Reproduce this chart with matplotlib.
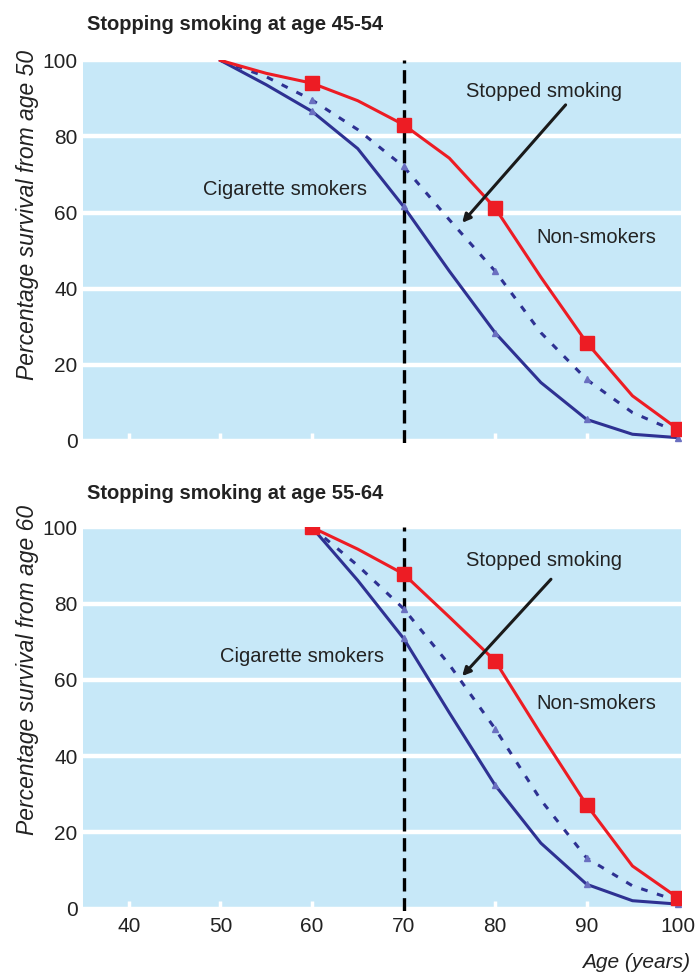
import matplotlib
matplotlib.use("Agg")
import matplotlib.pyplot as plt
from matplotlib import font_manager

names = {f.name for f in font_manager.fontManager.ttflist}
FONT = "Liberation Sans Narrow" if "Liberation Sans Narrow" in names else "Liberation Sans"
plt.rcParams["font.family"] = [FONT, "DejaVu Sans"]

# ---------------- data ----------------
ages_top = [50, 55, 60, 65, 70, 75, 80, 85, 90, 95, 100]
non_smokers_top = [100, 96.6, 94.0, 89.4, 83.1, 74.3, 61.2, 43.0, 25.8, 11.8, 3.0]
stopped_top = [100, 95.7, 89.6, 81.8, 72.1, 58.1, 44.6, 28.4, 16.1, 7.4, 2.2]
smokers_top = [100, 93.6, 86.6, 76.8, 61.6, 44.6, 28.4, 15.3, 5.6, 1.7, 0.8]

ages_bot = [60, 65, 70, 75, 80, 85, 90, 95, 100]
non_smokers_bot = [100, 94.3, 87.8, 76.5, 65.0, 45.8, 27.2, 11.2, 2.8]
stopped_bot = [100, 90.0, 78.7, 64.0, 47.2, 28.5, 13.3, 6.0, 2.0]
smokers_bot = [100, 86.1, 70.9, 51.4, 32.4, 17.2, 6.4, 2.1, 1.2]

marker_ages = [60, 70, 80, 90, 100]
x_ticks = [40, 50, 60, 70, 80, 90, 100]
y_ticks = [0, 20, 40, 60, 80, 100]
titles = ["Stopping smoking at age 45-54", "Stopping smoking at age 55-64"]
ylabels = ["Percentage survival from age 50", "Percentage survival from age 60"]
quit_age_line = 70

RED = "#ED1C24"
NAVY = "#2E3192"
BG = "#C7E8F8"
TXT = "#222222"

fig = plt.figure(figsize=(6.95, 9.77), dpi=100)
ax_top = fig.add_axes([83 / 695, 1 - 443 / 977, 598 / 695, 383 / 977])
ax_bot = fig.add_axes([83 / 695, 1 - 911 / 977, 598 / 695, 384 / 977])

panels = [
    (ax_top, ages_top, non_smokers_top, stopped_top, smokers_top),
    (ax_bot, ages_bot, non_smokers_bot, stopped_bot, smokers_bot),
]

text_pos = [
    dict(stopped=(85.3, 91.7), tail=(87.7, 88.3), head=(76.4, 57.3),
         cig=(57.1, 66.0), non=(91.0, 53.4)),
    dict(stopped=(85.3, 91.4), tail=(86.1, 86.4), head=(76.4, 61.0),
         cig=(58.9, 66.2), non=(91.0, 53.7)),
]

for i, (ax, ages, non, stop, smk) in enumerate(panels):
    ax.set_facecolor(BG)
    for s in ax.spines.values():
        s.set_visible(False)
    ax.set_xlim(35, 100.3)
    ax.set_ylim(-0.6, 100.1)
    ax.set_axisbelow(True)
    ax.yaxis.grid(True, color="white", lw=3.2)
    ax.set_yticks(y_ticks)
    ax.set_xticks(x_ticks)
    ax.tick_params(axis="x", direction="in", color="white", length=7, width=2.5,
                   labelsize=15, pad=4)
    ax.tick_params(axis="y", length=0, labelsize=15, pad=4)
    for lab in ax.get_xticklabels() + ax.get_yticklabels():
        lab.set_color(TXT)
    if i == 0:
        ax.set_xticklabels([])

    midx = [ages.index(a) for a in marker_ages]
    ax.axvline(quit_age_line, color="black", lw=2.4, ls=(0, (4, 2)), zorder=3)
    ax.plot(ages, smk, color=NAVY, lw=2.2, zorder=4, marker="^", markersize=5,
            markevery=midx, markerfacecolor="#6A6FC0", markeredgecolor="#6A6FC0")
    ax.plot(ages, stop, color=NAVY, lw=2.2, ls=(0, (2.2, 3.2)), zorder=4, marker="^",
            markersize=5, markevery=midx, markerfacecolor="#6A6FC0",
            markeredgecolor="#6A6FC0")
    ax.plot(ages, non, color=RED, lw=2.2, zorder=5, marker="s", markersize=10,
            markevery=midx, markerfacecolor=RED, markeredgecolor=RED)

    tp = text_pos[i]
    for key, label in (("stopped", "Stopped smoking"), ("cig", "Cigarette smokers"),
                       ("non", "Non-smokers")):
        ax.text(*tp[key], label, fontsize=14.5, ha="center", va="center",
                color=TXT, zorder=6)
    ax.annotate("", xy=tp["head"], xytext=tp["tail"], zorder=6,
                arrowprops=dict(arrowstyle="-|>", color="#1a1a1a", lw=2.2,
                                mutation_scale=12, shrinkA=0, shrinkB=0))

fig.text(87 / 695, 1 - 25 / 977, titles[0], fontsize=14.5, fontweight="bold",
         ha="left", va="center", color=TXT)
fig.text(87 / 695, 1 - 494 / 977, titles[1], fontsize=14.5, fontweight="bold",
         ha="left", va="center", color=TXT)

fig.text(28 / 695, 1 - 50 / 977, ylabels[0], rotation=90, fontsize=16.5,
         fontstyle="italic", ha="center", va="top", color=TXT)
fig.text(28 / 695, 1 - 505 / 977, ylabels[1], rotation=90, fontsize=16.5,
         fontstyle="italic", ha="center", va="top", color=TXT)

fig.text(690 / 695, 1 - 962 / 977, "Age (years)", fontsize=15, fontstyle="italic",
         ha="right", va="center", color=TXT)

fig.savefig("out.png", dpi=100)
